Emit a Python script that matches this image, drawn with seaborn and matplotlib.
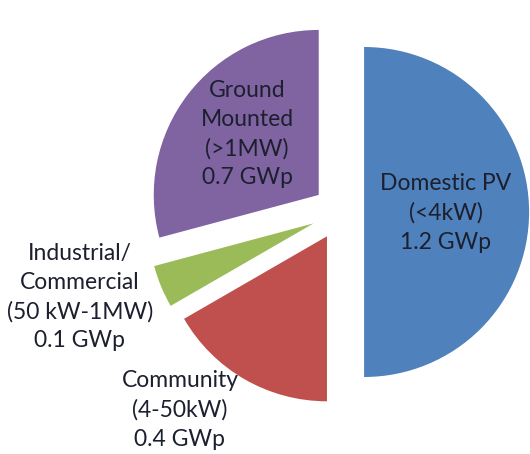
import matplotlib
matplotlib.use("Agg")
import matplotlib.pyplot as plt
import seaborn as sns

# data
categories = ["Domestic PV", "Community", "Industrial/\nCommercial", "Ground\nMounted"]
sizes_text = ["(<4kW)", "(4-50kW)", "(50 kW-1MW)", "(>1MW)"]
capacity_gwp = [1.2, 0.4, 0.1, 0.7]
colors = ["#4F81BD", "#C0504D", "#9BBB59", "#8064A2"]
explode_frac = [0.14, 0.17, 0.18, 0.17]

sns.set_theme(style="white")
plt.rcParams["font.family"] = ["Lato", "DejaVu Sans"]

fig = plt.figure(figsize=(5.3, 4.54), dpi=100)
ax = fig.add_axes([0, 0, 1, 1])

r = 165
# matplotlib's explode is in data units, so scale by radius
ax.pie(capacity_gwp, colors=colors, explode=[e * r for e in explode_frac],
       startangle=90, counterclock=False, center=(341, 242), radius=r,
       wedgeprops={"linewidth": 0}, frame=True)
ax.set_xlim(0, 530)
ax.set_ylim(0, 454)
ax.set_aspect("equal")
ax.axis("off")

# label positions (pixel coords, y up)
label_pos = [(446, 241), (180, 44), (80, 157), (247, 320)]
for name, sz, val, (x, y) in zip(categories, sizes_text, capacity_gwp, label_pos):
    ax.text(x, y, f"{name}\n{sz}\n{val} GWp", ha="center", va="center",
            fontsize=16.5, color="#1c1f2e", linespacing=1.45)

fig.savefig("out.png", dpi=100)
